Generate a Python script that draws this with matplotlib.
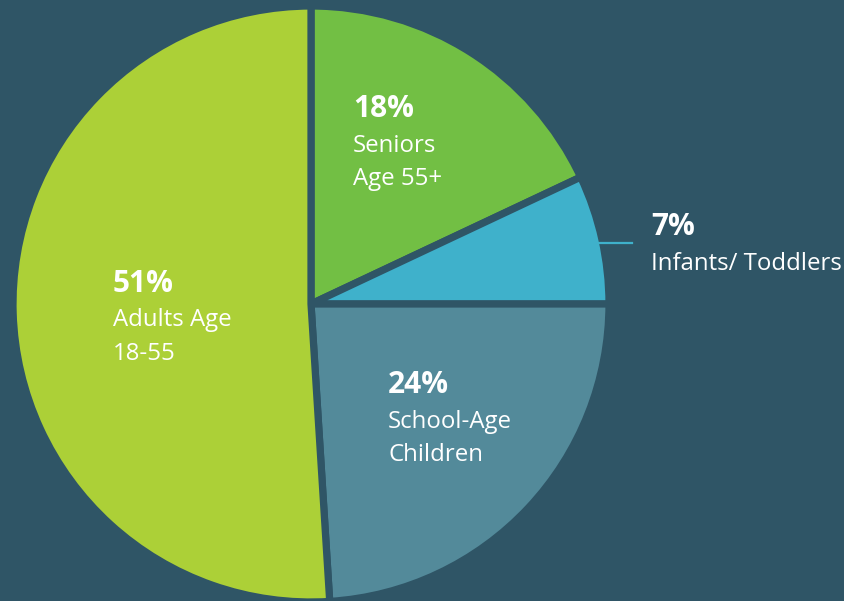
import matplotlib.pyplot as plt

# data
groups = ['Seniors\nAge 55+', 'Infants/ Toddlers', 'School-Age\nChildren', 'Adults Age\n18-55']
shares = [18, 7, 24, 51]
colors = ['#72bf44', '#3fb1cb', '#538a9a', '#acd037']

bg = '#2f5566'
W, H = 844, 601
cx, cy, r = 311, H - 304, 298

plt.rcParams['font.family'] = ['Open Sans', 'DejaVu Sans']

fig = plt.figure(figsize=(W / 100, H / 100), dpi=100, facecolor=bg)
ax = fig.add_axes([0, 0, 1, 1])
ax.set_facecolor(bg)

ax.pie(shares, colors=colors, startangle=90, counterclock=False,
       center=(cx, cy), radius=r, frame=True,
       wedgeprops=dict(edgecolor=bg, linewidth=5.2))
ax.set_xlim(0, W)
ax.set_ylim(0, H)
ax.set_aspect('equal')
ax.axis('off')

# leader line for the small slice
ax.plot([598, 632], [H - 243, H - 243], color='#3fb1cb', lw=1.6)

# labels: (x, baseline y from top)
label_pos = [(353, 117), (651, 235), (388, 393), (113, 292)]
for (x, y), pct, name in zip(label_pos, shares, groups):
    ax.text(x, H - y, f'{pct}%', color='white', fontsize=21.5, fontweight='bold',
            ha='left', va='baseline')
    for i, line in enumerate(name.split('\n')):
        ax.text(x, H - y - 34.5 - i * 33.5, line, color='white', fontsize=17.3,
                ha='left', va='baseline')

fig.savefig('out.png', dpi=100, facecolor=bg)
